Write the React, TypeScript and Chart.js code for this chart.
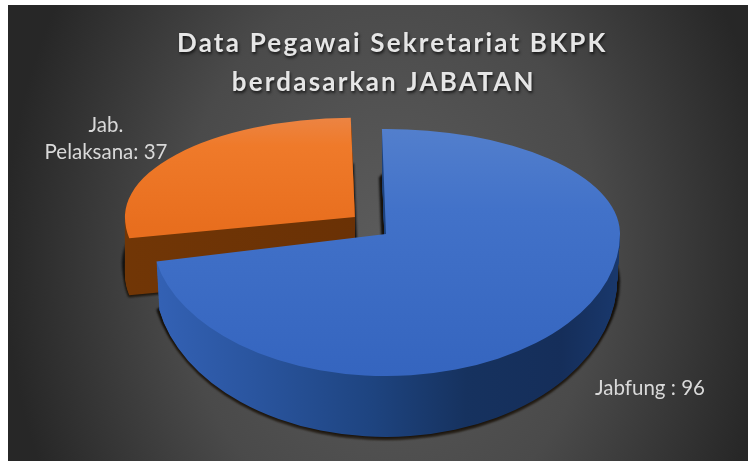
import React, { useEffect, useRef } from "react";
import { Chart, registerables, ArcElement } from "chart.js";

Chart.register(...registerables);

const categories = ["Jabfung", "Jab. Pelaksana"];
const values = [96, 37];
const labelLines = [["Jabfung : 96"], ["Jab.", "Pelaksana: 37"]];
const titleLines = [" Data Pegawai Sekretariat BKPK", "berdasarkan JABATAN "];

// styling / projection
const RADIUS = 234;
const explode = [0, 160];
const squeezeX = [1, 0.98];
const wallSqueeze = [0.012, 0];
const tiltTop = [105 / 234, 99 / 234];
const tiltBottom = [142 / 234, 110 / 234];
const wallShift = [45, 57];
const wallGrow = [16, 0];
const shadowShift = [48, 46];
const LIFT = 0.66;
const labelAnchors = [
  [642, 383],
  [98, 120],
];
const topStops: [number, string][][] = [
  [[0, "#5480cd"], [0.35, "#4272c9"], [1, "#3565bf"]],
  [[0, "#ea8a52"], [0.35, "#ef7a2a"], [1, "#e86e1e"]],
];
const topRange = [
  [122, 374],
  [111, 240],
];
const wallStops: [number, string][][] = [
  [[0, "#3361b4"], [0.2, "#2a559f"], [0.45, "#1e4480"], [0.65, "#16325f"], [0.85, "#152e5a"], [1, "#1a3a70"]],
  [[0, "#713606"], [0.5, "#6a3105"], [1, "#602c04"]],
];

function drawPiece(ctx: any, chart: any, arc: any, i: number, fill: any, shift: number, grow: number, border = 0) {
  const mid = (arc.startAngle + arc.endAngle) / 2;
  const off = (arc.options.offset || 0) / 4;
  const dy = Math.sin(mid) * off;
  const dx = Math.cos(mid) * off;
  const origY = arc.y + dy;
  const apexY = Math.round(arc.y + dy * LIFT + shift);
  const W = chart.width;
  const H = chart.height;
  const sx = squeezeX[i] * (1 - (wallSqueeze[i] * shift) / wallShift[i]);
  const parts = [
    { s: tiltTop[i], y: 0, h: apexY },
    { s: tiltBottom[i] + grow / RADIUS, y: apexY, h: H - apexY },
  ];
  for (const p of parts) {
    ctx.save();
    ctx.beginPath();
    ctx.rect(0, p.y, W, p.h);
    ctx.clip();
    const cxx = arc.x + dx;
    ctx.translate(cxx, apexY);
    ctx.scale(sx, p.s);
    ctx.translate(-cxx, -origY);
    const color = typeof fill === "function" ? fill(ctx, p.s, apexY, origY) : fill;
    const proxy = Object.create(arc, {
      options: {
        value: { ...arc.options, backgroundColor: color, borderWidth: border, borderColor: color },
      },
      pixelMargin: { value: 0, writable: true },
      fullCircles: { value: 0, writable: true },
    });
    ArcElement.prototype.draw.call(proxy, ctx);
    ctx.restore();
  }
}

const pie3d = {
  id: "pie3d",
  beforeDraw(chart: any) {
    const { ctx, width, height } = chart;
    ctx.save();
    ctx.translate(width * 0.515, height * 0.55);
    ctx.scale(1, 1.3);
    const g = ctx.createRadialGradient(0, 0, 0, 0, 0, 385);
    g.addColorStop(0, "#5c5c5c");
    g.addColorStop(0.55, "#4a4a4a");
    g.addColorStop(1, "#272727");
    ctx.fillStyle = g;
    ctx.fillRect(-width, -height, width * 2, height * 2);
    ctx.restore();
    ctx.letterSpacing = "2.2px";
    ctx.shadowColor = "rgba(0,0,0,0.7)";
    ctx.shadowBlur = 3;
    ctx.shadowOffsetY = 2;
    ctx.shadowOffsetX = 1;
    ctx.translate(2, 0);
  },
  beforeDatasetsDraw(chart: any) {
    const ctx = chart.ctx;
    ctx.setTransform(1, 0, 0, 1, 0, 0);
    ctx.letterSpacing = "0px";
    ctx.shadowColor = "transparent";
    ctx.shadowBlur = 0;
    ctx.shadowOffsetX = 0;
    ctx.shadowOffsetY = 0;
    const arcs = chart.getDatasetMeta(0).data;

    const wallFill = (i: number) => (c: any) => {
      const g = c.createLinearGradient(150, 0, 625, 0);
      for (const [o, col] of wallStops[i]) g.addColorStop(o, col);
      return g;
    };
    const topFill = (i: number) => (c: any, s: number, apexY: number, origY: number) => {
      const ua = origY + (topRange[i][0] - 5 - apexY) / s;
      const ub = origY + (topRange[i][1] - 5 - apexY) / s;
      const g = c.createLinearGradient(0, ua, 0, ub);
      for (const [o, col] of topStops[i]) g.addColorStop(o, col);
      return g;
    };

    // cast shadows
    ctx.save();
    ctx.filter = "blur(1.2px)";
    for (let i = arcs.length - 1; i >= 0; i--) {
      drawPiece(ctx, chart, arcs[i], i, "#111111", shadowShift[i], 0, 6);
      drawPiece(ctx, chart, arcs[i], i, "#1a1208", wallShift[i] + 1, wallGrow[i] + 1, 2);
    }
    ctx.restore();

    // back to front: exploded slice first, main slice over it
    for (let i = arcs.length - 1; i >= 0; i--) {
      for (let d = wallShift[i]; d >= 1; d--) {
        drawPiece(ctx, chart, arcs[i], i, wallFill(i), d, (wallGrow[i] * d) / wallShift[i]);
      }
      drawPiece(ctx, chart, arcs[i], i, topFill(i), 0, 0);
    }

    ctx.save();
    ctx.font = '20.5px "Lato"';
    ctx.fillStyle = "#d9d9d9";
    ctx.textAlign = "center";
    ctx.textBaseline = "middle";
    labelLines.forEach((lines, i) => {
      lines.forEach((t, k) => ctx.fillText(t, labelAnchors[i][0], labelAnchors[i][1] + k * 27));
    });
    ctx.restore();
    return false;
  },
};

export default function App() {
  const ref = useRef<HTMLCanvasElement>(null);
  useEffect(() => {
    const chart = new Chart(ref.current as HTMLCanvasElement, {
      type: "pie",
      data: {
        labels: categories,
        datasets: [
          {
            data: values,
            backgroundColor: ["#3f70c8", "#ed7d31"],
            borderWidth: 0,
            offset: explode,
          },
        ],
      },
      options: {
        responsive: false,
        animation: false,
        devicePixelRatio: 1,
        rotation: -1,
        radius: RADIUS,
        layout: { padding: { left: 16, bottom: 96 } },
        plugins: {
          legend: { display: false },
          tooltip: { enabled: false },
          title: {
            display: true,
            text: titleLines,
            color: "#e6e6e6",
            font: { family: '"Lato"', size: 26, weight: "bold", lineHeight: 1.5 },
            padding: { top: 19, bottom: 1 },
          },
        },
      } as any,
      plugins: [pie3d as any],
    });
    return () => chart.destroy();
  }, []);
  return (
    <div style={{ position: "fixed", left: 8, top: 5, width: 740, height: 456 }}>
      <canvas ref={ref} width={740} height={456} style={{ display: "block" }} />
    </div>
  );
}
